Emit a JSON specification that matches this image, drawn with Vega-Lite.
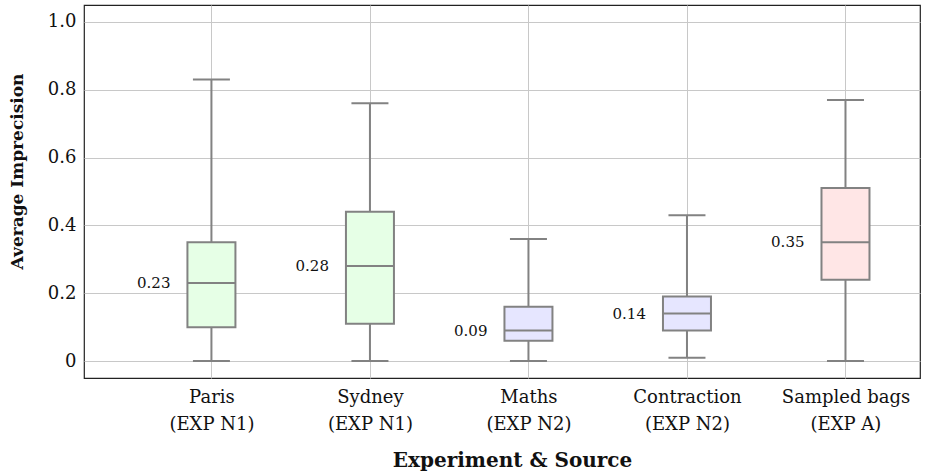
{
  "$schema": "https://vega.github.io/schema/vega-lite/v6.json",
  "autosize": {"type": "none"},
  "padding": {"left": 84, "top": 5, "right": 13, "bottom": 96},
  "width": 836,
  "height": 373,
  "config": {
    "view": {"stroke": "#222", "strokeWidth": 1.2},
    "font": "DejaVu Serif",
    "axis": {"labelFont": "DejaVu Serif", "titleFont": "DejaVu Serif", "labelColor": "#111", "titleColor": "#111"}
  },
  "data": {
    "values": [
      {"source": "Paris (EXP N1)", "exp": "N1", "low": 0, "q1": 0.10, "median": 0.23, "q3": 0.35, "high": 0.83},
      {"source": "Sydney (EXP N1)", "exp": "N1", "low": 0, "q1": 0.11, "median": 0.28, "q3": 0.44, "high": 0.76},
      {"source": "Maths (EXP N2)", "exp": "N2", "low": 0, "q1": 0.06, "median": 0.09, "q3": 0.16, "high": 0.36},
      {"source": "Contraction (EXP N2)", "exp": "N2", "low": 0.01, "q1": 0.09, "median": 0.14, "q3": 0.19, "high": 0.43},
      {"source": "Sampled bags (EXP A)", "exp": "A", "low": 0, "q1": 0.24, "median": 0.35, "q3": 0.51, "high": 0.77}
    ]
  },
  "encoding": {
    "x": {
      "field": "source", "type": "nominal", "sort": null,
      "scale": {"type": "point", "padding": 0.637, "align": 0.631},
      "axis": {
        "title": "Experiment & Source",
        "titleFontSize": 20, "titleFontWeight": "bold",
        "titleX": 428, "titleY": 82, "titleBaseline": "middle",
        "labelAngle": 0, "labelFontSize": 18, "labelLineHeight": 27,
        "labelExpr": "[slice(datum.value, 0, indexof(datum.value, ' (')), slice(datum.value, indexof(datum.value, ' (') + 1)]",
        "labelPadding": 10, "labelBaseline": "top",
        "domain": false, "ticks": false,
        "grid": true, "gridColor": "#c8c8c8", "gridWidth": 1
      }
    }
  },
  "layer": [
    {
      "mark": {"type": "rule", "color": "#828282", "strokeWidth": 2},
      "encoding": {
        "y": {"field": "low", "type": "quantitative",
          "scale": {"domain": [-0.05, 1.05], "nice": false, "zero": false},
          "axis": {
            "title": "Average Imprecision", "titleFontSize": 17, "titleFontWeight": "bold",
            "titleX": -67, "titleY": 166, "titleBaseline": "middle", "titleAngle": -90, "titleAlign": "center",
            "values": [0, 0.2, 0.4, 0.6, 0.8, 1.0],
            "labelExpr": "datum.value == 0 ? '0' : format(datum.value, '.1f')",
            "labelFontSize": 18, "labelPadding": 8,
            "domain": false, "ticks": false,
            "grid": true, "gridColor": "#c8c8c8", "gridWidth": 1
          }
        },
        "y2": {"field": "high"}
      }
    },
    {
      "mark": {"type": "tick", "color": "#828282", "thickness": 2, "size": 37, "opacity": 1},
      "encoding": {"y": {"field": "low", "type": "quantitative"}}
    },
    {
      "mark": {"type": "tick", "color": "#828282", "thickness": 2, "size": 37, "opacity": 1},
      "encoding": {"y": {"field": "high", "type": "quantitative"}}
    },
    {
      "mark": {"type": "bar", "width": 48, "stroke": "#828282", "strokeWidth": 2, "opacity": 1},
      "encoding": {
        "y": {"field": "q1", "type": "quantitative"},
        "y2": {"field": "q3"},
        "fill": {"field": "exp", "type": "nominal", "legend": null,
          "scale": {"domain": ["N1", "N2", "A"], "range": ["#e6ffe6", "#e6e6ff", "#ffe6e6"]}}
      }
    },
    {
      "mark": {"type": "tick", "color": "#828282", "thickness": 2, "size": 48, "opacity": 1},
      "encoding": {"y": {"field": "median", "type": "quantitative"}}
    },
    {
      "mark": {"type": "text", "align": "right", "baseline": "middle", "dx": -41, "fontSize": 15, "color": "#111"},
      "encoding": {
        "y": {"field": "median", "type": "quantitative"},
        "text": {"field": "median", "type": "quantitative", "format": ".2f"}
      }
    }
  ]
}
